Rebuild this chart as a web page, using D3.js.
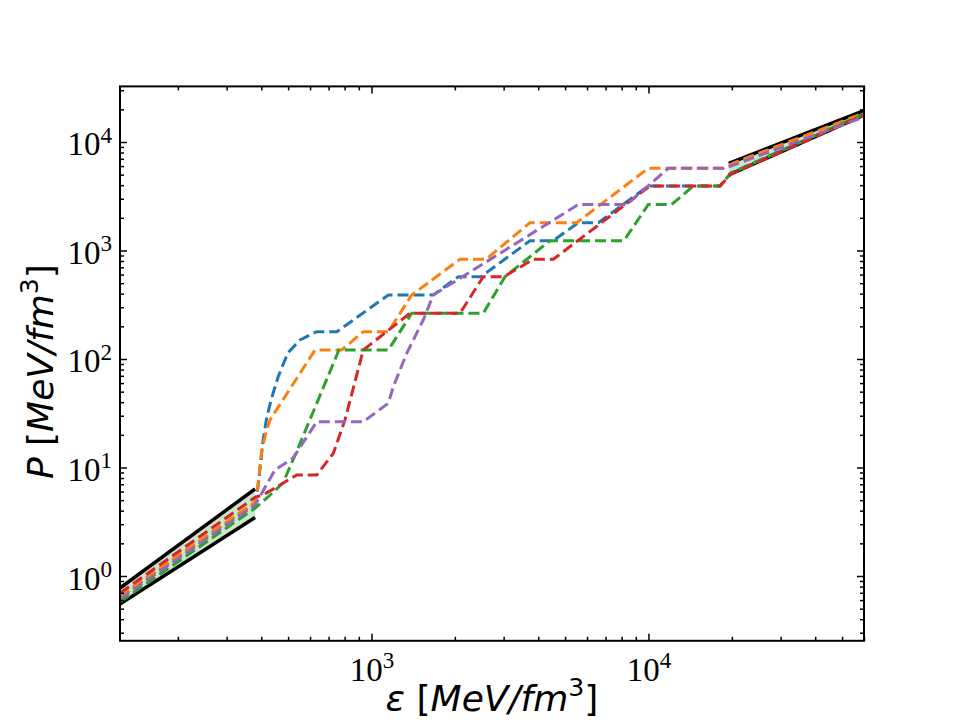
<!DOCTYPE html>
<html>
<head>
<meta charset="utf-8">
<script src="https://d3js.org/d3.v7.min.js"></script>
<style>
body { margin: 0; background: #fff; }
</style>
</head>
<body>
<svg width="960" height="720"></svg>
<script>
// energy density eps and pressure P, both in MeV/fm^3

// black envelope bands (low and high density)
const bandLowEps = [123.6, 380];
const bandLowUpper = [0.775, 6.34];
const bandLowLower = [0.552, 3.46];
const bandHighEps = [19500, 60000];
const bandHighUpper = [6340, 19500];
const bandHighLower = [4970, 17700];

// dashed EoS samples
const blueEps = [123.6, 380, 389, 406, 419, 437, 460, 499, 552, 634, 750, 1150, 1671, 2058, 2485, 3734, 4532, 5580, 6589, 9984, 18120, 19860, 60000];
const blueP   = [0.640, 4.71, 6.47, 17.9, 29.2, 44.6, 68.2, 114, 150, 178.5, 178.5, 389, 389, 573, 573, 1231, 1231, 1804, 1804, 3931, 3931, 5180, 18120];

const orangeEps = [123.6, 380, 386, 402, 416, 430, 625, 780, 934, 1150, 1397, 2087, 2590, 3734, 5506, 9984, 18580, 19860, 60000];
const orangeP   = [0.654, 4.81, 5.82, 14.5, 21.2, 27.4, 121, 121, 178.5, 178.5, 389, 830, 830, 1804, 1804, 5722, 5722, 6270, 18510];

const greenEps = [123.6, 380, 423, 479, 534, 763, 1150, 1397, 2532, 3033, 4410, 8156, 9984, 12130, 14510, 18120, 19860, 60000];
const greenP   = [0.576, 4.23, 5.35, 7.20, 13.6, 121, 121, 264, 264, 573, 1231, 1231, 2655, 2655, 3931, 3931, 5180, 18120];

const redEps = [123.6, 380, 412, 537, 634, 728, 802, 934, 1377, 2087, 2532, 3008, 3838, 4532, 10120, 18120, 19860, 60000];
const redP   = [0.697, 5.30, 5.70, 8.53, 8.53, 13.5, 27.4, 121, 264, 264, 573, 573, 830, 830, 3931, 3931, 5070, 17740];

const purpleEps = [123.6, 380, 448, 521, 634, 934, 1150, 1199, 1340, 1538, 1671, 5580, 8342, 11790, 18580, 19860, 60000];
const purpleP   = [0.614, 4.51, 9.48, 12.2, 26.4, 26.4, 39.1, 55.6, 113, 229, 389, 2655, 2655, 5722, 5722, 6009, 17000];

const xMajor = [1e3, 1e4];
const yMajor = [1e0, 1e1, 1e2, 1e3, 1e4];

const series = [
    {eps: blueEps, p: blueP, color: '#1f77b4'},
    {eps: orangeEps, p: orangeP, color: '#ff7f0e'},
    {eps: greenEps, p: greenP, color: '#2ca02c'},
    {eps: redEps, p: redP, color: '#d62728'},
    {eps: purpleEps, p: purpleP, color: '#9467bd'}
];

let svg = d3.select("svg");
const padL = 120, padR = 864, padT = 86.4, padB = 640.8;

let xScale = d3.scaleLog().domain([123.6, 60000]).range([padL, padR]);
let yScale = d3.scaleLog().domain([0.2528, 32540]).range([padB, padT]);

svg.append('clipPath').attr('id', 'plotclip')
    .append('rect')
    .attr('x', padL).attr('y', padT)
    .attr('width', padR - padL).attr('height', padB - padT);

let plot = svg.append('g').attr('clip-path', 'url(#plotclip)');

// shaded bands between the black curves
let area = d3.area()
    .x(d => xScale(d[0]))
    .y0(d => yScale(d[2]))
    .y1(d => yScale(d[1]));

let bands = [
    [bandLowEps, bandLowUpper, bandLowLower],
    [bandHighEps, bandHighUpper, bandHighLower]
];

bands.forEach(b => {
    let rows = b[0].map((e, i) => [e, b[1][i], b[2][i]]);
    plot.append('path')
        .datum(rows)
        .attr('d', area)
        .attr('fill', '#2ca02c')
        .attr('fill-opacity', 0.25);
});

let lineGen = d3.line()
    .x(d => xScale(d[0]))
    .y(d => yScale(d[1]));

bands.forEach(b => {
    [b[1], b[2]].forEach(vals => {
        plot.append('path')
            .datum(b[0].map((e, i) => [e, vals[i]]))
            .attr('d', lineGen)
            .attr('fill', 'none')
            .attr('stroke', 'black')
            .attr('stroke-width', 3.5);
    });
});

series.forEach(s => {
    plot.append('path')
        .datum(s.eps.map((e, i) => [e, s.p[i]]))
        .attr('d', lineGen)
        .attr('fill', 'none')
        .attr('stroke', s.color)
        .attr('stroke-width', 3)
        .attr('stroke-dasharray', '11,5');
});

// minor tick values for the log axes
function minors(lo, hi) {
    let out = [];
    for (let p = -1; p <= 5; p++) {
        for (let m = 2; m <= 9; m++) {
            let v = m * Math.pow(10, p);
            if (v >= lo && v <= hi) out.push(v);
        }
    }
    return out;
}
const xMinor = minors(123.6, 60000);
const yMinor = minors(0.2528, 32540);

function powLabel(d) {
    let t = d3.select(this);
    t.text('');
    t.append('tspan').text('10');
    t.append('tspan')
        .attr('dy', '-0.55em')
        .attr('font-size', '0.7em')
        .text(Math.round(Math.log10(d)));
}

function styleAxis(g) {
    g.select('.domain').remove();
    g.selectAll('.tick line').attr('stroke', 'black').attr('stroke-width', 1.5);
}

// bottom
svg.append('g').attr('transform', `translate(0,${padB})`)
    .call(d3.axisBottom(xScale).tickValues(xMinor).tickSize(-4).tickFormat(''))
    .call(styleAxis);
let gx = svg.append('g').attr('transform', `translate(0,${padB})`)
    .call(d3.axisBottom(xScale).tickValues(xMajor).tickSize(-7))
    .call(styleAxis);
gx.selectAll('.tick text')
    .attr('y', 40).attr('dy', null)
    .attr('font-family', '"Liberation Serif", "DejaVu Serif", serif')
    .attr('font-size', 33)
    .attr('fill', 'black')
    .each(powLabel);

// top
svg.append('g').attr('transform', `translate(0,${padT})`)
    .call(d3.axisTop(xScale).tickValues(xMinor).tickSize(-4).tickFormat(''))
    .call(styleAxis);
svg.append('g').attr('transform', `translate(0,${padT})`)
    .call(d3.axisTop(xScale).tickValues(xMajor).tickSize(-7).tickFormat(''))
    .call(styleAxis);

// left
svg.append('g').attr('transform', `translate(${padL},0)`)
    .call(d3.axisLeft(yScale).tickValues(yMinor).tickSize(-4).tickFormat(''))
    .call(styleAxis);
let gy = svg.append('g').attr('transform', `translate(${padL},0)`)
    .call(d3.axisLeft(yScale).tickValues(yMajor).tickSize(-7).tickPadding(8))
    .call(styleAxis);
gy.selectAll('.tick text')
    .attr('y', 13).attr('dy', null)
    .attr('font-family', '"Liberation Serif", "DejaVu Serif", serif')
    .attr('font-size', 33)
    .attr('fill', 'black')
    .each(powLabel);

// right
svg.append('g').attr('transform', `translate(${padR},0)`)
    .call(d3.axisRight(yScale).tickValues(yMinor).tickSize(-4).tickFormat(''))
    .call(styleAxis);
svg.append('g').attr('transform', `translate(${padR},0)`)
    .call(d3.axisRight(yScale).tickValues(yMajor).tickSize(-7).tickFormat(''))
    .call(styleAxis);

// frame
svg.append('rect')
    .attr('x', padL).attr('y', padT)
    .attr('width', padR - padL).attr('height', padB - padT)
    .attr('fill', 'none')
    .attr('stroke', 'black')
    .attr('stroke-width', 2);

// axis labels
function unitLabel(t, symbol) {
    t.append('tspan').attr('font-style', 'italic').text(symbol);
    t.append('tspan').text(' [');
    t.append('tspan').attr('font-style', 'italic').text('MeV/fm');
    t.append('tspan').attr('dy', '-0.6em').attr('font-size', '0.7em').text('3');
    t.append('tspan').attr('dy', '0.42em').text(']');
}

let xl = svg.append('text')
    .attr('x', (padL + padR) / 2)
    .attr('y', 711)
    .attr('text-anchor', 'middle')
    .attr('font-family', '"DejaVu Sans", sans-serif')
    .attr('font-size', 36);
unitLabel(xl, 'ε');

let yl = svg.append('text')
    .attr('transform', `translate(53,${(padT + padB) / 2 + 8}) rotate(-90)`)
    .attr('text-anchor', 'middle')
    .attr('font-family', '"DejaVu Sans", sans-serif')
    .attr('font-size', 36);
unitLabel(yl, 'P');
</script>
</body>
</html>
